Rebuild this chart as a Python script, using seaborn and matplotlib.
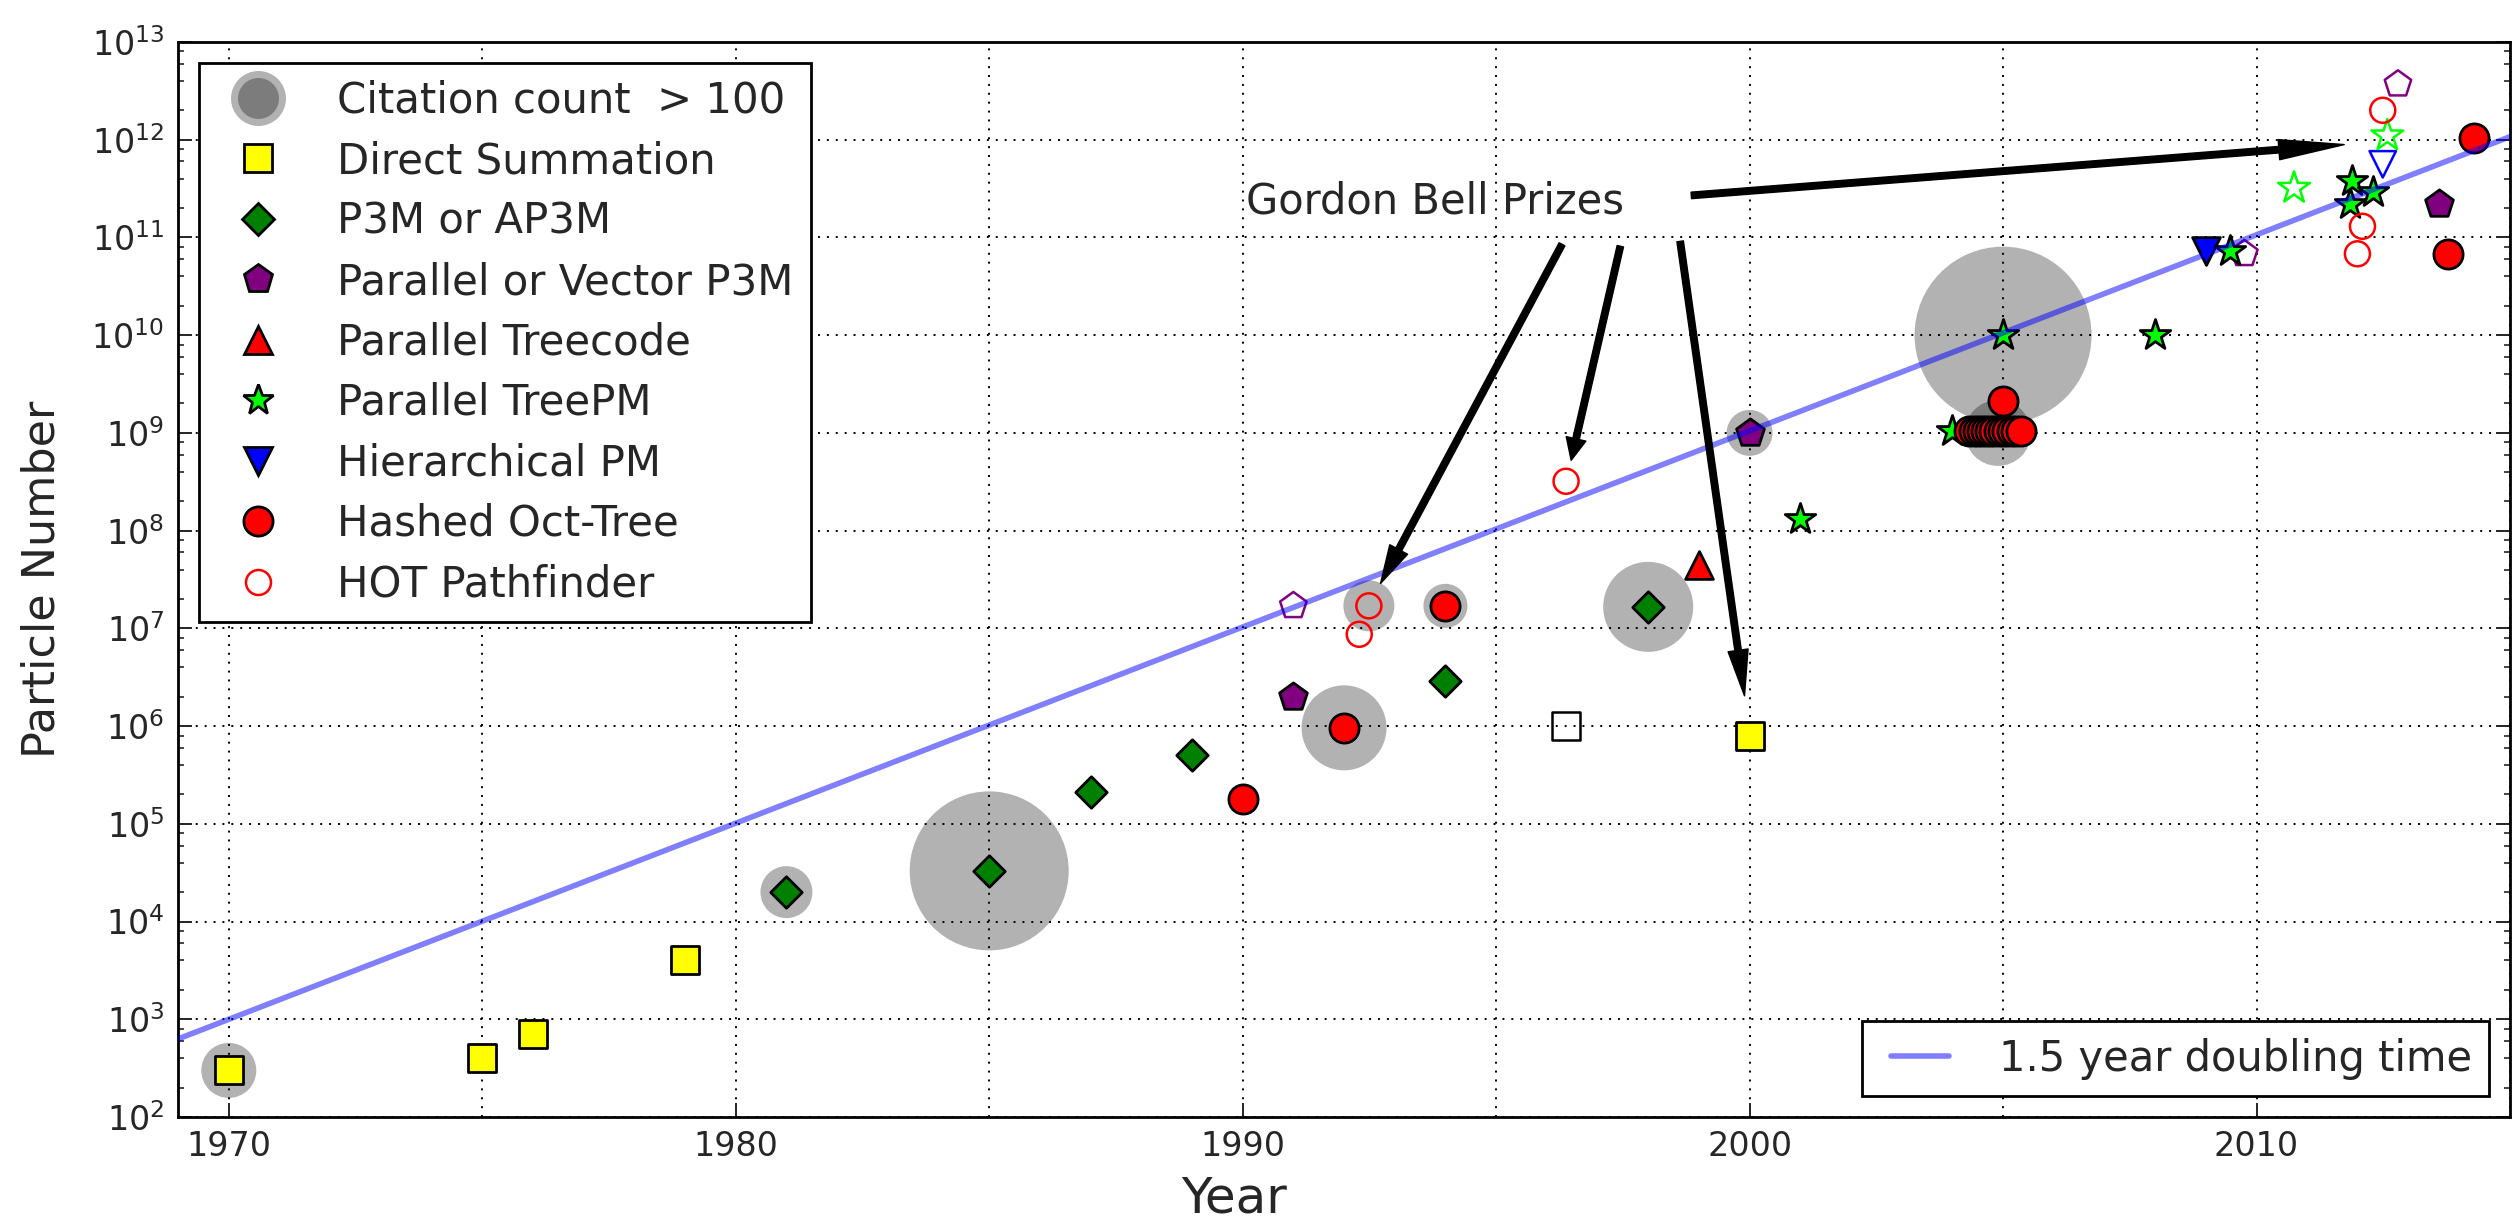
import matplotlib
matplotlib.use("Agg")
import matplotlib.pyplot as plt
from matplotlib.lines import Line2D
from matplotlib.legend_handler import HandlerTuple
from matplotlib.ticker import MultipleLocator, LogLocator, NullFormatter
import numpy as np
import seaborn as sns

# ---------------- data ----------------
direct_year = [1970, 1975, 1976, 1979, 2000]
direct_n = [3e2, 4e2, 7e2, 4e3, 8e5]

p3m_year = [1981, 1985, 1987, 1989, 1994, 1998]
p3m_n = [2e4, 3.3e4, 2.1e5, 5.1e5, 2.9e6, 1.66e7]

pp3m_year = [1991, 2000, 2013.6]
pp3m_n = [2.0e6, 1.0e9, 2.2e11]

treecode_year = [1999]
treecode_n = [4.5e7]

treepm_year = [2001, 2004.0, 2005, 2008, 2009.47, 2011.85, 2011.89, 2012.29]
treepm_n = [1.32e8, 1.05e9, 1.0e10, 1.0e10, 7.2e10, 2.2e11, 3.8e11, 2.9e11]

hpm_year = [2009.0]
hpm_n = [7.2e10]

hot_year = [1990, 1992, 1994,
            2004.33, 2004.42, 2004.5, 2004.58, 2004.67, 2004.75, 2004.83,
            2004.92, 2005.0, 2005.08, 2005.17, 2005.25, 2005.36,
            2005.0, 2013.78, 2014.29]
hot_n = [1.8e5, 9.6e5, 1.7e7,
         1.05e9, 1.05e9, 1.05e9, 1.05e9, 1.05e9, 1.05e9, 1.05e9,
         1.05e9, 1.05e9, 1.05e9, 1.05e9, 1.05e9, 1.05e9,
         2.1e9, 6.8e10, 1.05e12]

pathfinder_year = [1992.3, 1992.49, 1996.38, 2011.99, 2012.09, 2012.49]
pathfinder_n = [8.7e6, 1.7e7, 3.2e8, 6.8e10, 1.3e11, 2.0e12]

# unfilled entries of the other methods
open_direct_year = [1996.38]
open_direct_n = [1.0e6]
open_pp3m_year = [1991, 2009.76, 2012.79]
open_pp3m_n = [1.7e7, 6.8e10, 3.7e12]
open_treepm_year = [2010.74, 2012.58]
open_treepm_n = [3.2e11, 1.1e12]
open_hpm_year = [2012.49]
open_hpm_n = [5.6e11]

# highly cited runs (bubble area follows the citation count)
cited_year = [1970, 1981, 1985, 1992, 1992.49, 1994, 1998, 2000, 2005, 2004.9]
cited_n = [3e2, 2e4, 3.3e4, 9.6e5, 1.7e7, 1.7e7, 1.66e7, 1.0e9, 1.0e10, 1.0e9]
citations = [314, 280, 2622, 749, 270, 201, 840, 219, 3248, 452]

# Moore's-law style reference line
trend_years = [1969, 2015]
doubling_time = 1.5
trend_n = [1e3 * 2 ** ((y - 1970) / doubling_time) for y in trend_years]

# Gordon Bell prize annotations
gb_label = "Gordon Bell Prizes"
gb_label_pos = (1993.8, 10 ** 11.37)
gb_arrow_start = [(1996.3, 10 ** 10.93), (1997.45, 10 ** 10.91),
                  (1998.63, 10 ** 10.96), (1998.85, 10 ** 11.43)]
gb_arrow_tip = [(1992.72, 10 ** 7.46), (1996.48, 10 ** 8.72),
                (1999.9, 10 ** 6.31), (2011.73, 10 ** 11.95)]

legend_labels = ["Citation count  > 100", "Direct Summation", "P3M or AP3M",
                 "Parallel or Vector P3M", "Parallel Treecode", "Parallel TreePM",
                 "Hierarchical PM", "Hashed Oct-Tree", "HOT Pathfinder"]

# ---------------- style ----------------
sns.set_style("ticks")
plt.rcParams["font.family"] = ["DejaVu Sans"]
plt.rcParams["mathtext.fontset"] = "dejavusans"
plt.rcParams["lines.scale_dashes"] = False

DPI = 100
fig = plt.figure(figsize=(25.12, 12.2), dpi=DPI)
ax = fig.add_axes([0.0709, 0.0844, 0.9283, 0.8812])
ax.set_yscale("log")
ax.set_xlim(1969, 2015)
ax.set_ylim(1e2, 1e13)

EDGE = 2.0
OPEN_LW = 1.8
GRAY = (0, 0, 0, 0.3)
TREND_COLOR = (0, 0, 1, 0.5)
TREND_LW = 4.0

# citation bubbles
cmin, cmax = min(citations), max(citations)
sns.scatterplot(x=cited_year, y=cited_n, size=citations, sizes=(5 * cmin, 5 * cmax),
                size_norm=(cmin, cmax), color="k", alpha=0.3, linewidth=0,
                edgecolor="none", legend=False, zorder=1, ax=ax)


def points(x, y, marker, ms, face, edge, lw):
    sns.scatterplot(x=x, y=y, marker=marker, s=ms ** 2, color=face, edgecolor=edge,
                    linewidth=lw, legend=False, zorder=2, ax=ax)


styles = {
    "direct": ("s", 20, "yellow"),
    "p3m": ("D", 16, "green"),
    "pp3m": ("p", 21, "purple"),
    "treecode": ("^", 20, "red"),
    "treepm": ("*", 23, "lime"),
    "hpm": ("v", 20, "blue"),
    "hot": ("o", 21, "red"),
}

points(direct_year, direct_n, "s", 20, "yellow", "k", EDGE)
points(open_direct_year, open_direct_n, "s", 20, "none", "k", OPEN_LW)
points(p3m_year, p3m_n, "D", 16, "green", "k", EDGE)
points(pp3m_year, pp3m_n, "p", 21, "purple", "k", EDGE)
points(open_pp3m_year, open_pp3m_n, "p", 20, "none", "purple", OPEN_LW)
points(treecode_year, treecode_n, "^", 20, "red", "k", EDGE)
points(hpm_year, hpm_n, "v", 20, "blue", "k", EDGE)
points(open_hpm_year, open_hpm_n, "v", 19, "none", "blue", OPEN_LW)
points(treepm_year, treepm_n, "*", 23, "lime", "k", EDGE)
points(open_treepm_year, open_treepm_n, "*", 24, "none", "lime", OPEN_LW)
points(pathfinder_year, pathfinder_n, "o", 18, "none", "red", OPEN_LW)
for x, y in zip(hot_year, hot_n):
    points([x], [y], "o", 21, "red", "k", EDGE)

# doubling-time trend
sns.lineplot(x=trend_years, y=trend_n, color=TREND_COLOR, linewidth=TREND_LW,
             zorder=3, ax=ax, legend=False)

# grid, ticks, spines
ax.xaxis.set_major_locator(MultipleLocator(10))
ax.xaxis.set_minor_locator(MultipleLocator(5))
ax.xaxis.set_minor_formatter(NullFormatter())
ax.yaxis.set_major_locator(LogLocator(base=10, numticks=20))
ax.yaxis.set_minor_locator(LogLocator(base=10, subs=(2, 4, 6, 8), numticks=100))
ax.yaxis.set_minor_formatter(NullFormatter())
dots = (0, (1.4, 5.0))
ax.grid(True, axis="x", which="both", color="k", linestyle=dots, linewidth=1.4)
ax.grid(True, axis="y", which="major", color="k", linestyle=dots, linewidth=1.4)
ax.set_axisbelow(True)
ax.tick_params(axis="x", which="major", direction="in", length=10, width=1.4,
               bottom=True, top=False, labelsize=24, pad=9)
ax.tick_params(axis="x", which="minor", length=0)
ax.tick_params(axis="y", which="major", direction="in", length=10, width=1.4,
               left=True, right=True, labelsize=24, pad=10)
ax.tick_params(axis="y", which="minor", direction="in", length=4.5, width=1.2,
               left=True, right=True)
for sp in ax.spines.values():
    sp.set_color("k")
    sp.set_linewidth(2.0)

ax.set_xlabel("Year", fontsize=36)
ax.set_ylabel("Particle Number", fontsize=32)
ax.xaxis.set_label_coords(0.453, -0.053)
ax.yaxis.set_label_coords(-0.049, 0.5)

# Gordon Bell annotations
ax.text(*gb_label_pos, gb_label, fontsize=30, ha="center", va="center", zorder=5)
fig.canvas.draw()
for start, tip in zip(gb_arrow_start, gb_arrow_tip):
    p0 = ax.transData.transform(start)
    p1 = ax.transData.transform(tip)
    head = 0.1 * np.hypot(*(p1 - p0)) * 72 / DPI
    ax.annotate("", xy=tip, xytext=start, zorder=5,
                arrowprops=dict(facecolor="k", edgecolor="k", width=4.7,
                                headwidth=14.5, headlength=head, shrink=0.0))

# legends
cite_handle = (Line2D([], [], ls="none", marker="o", ms=39.6, mfc=GRAY, mec="none"),
               Line2D([], [], ls="none", marker="o", ms=29.5, mfc=GRAY, mec="none"))
handles = [cite_handle]
for key in ["direct", "p3m", "pp3m", "treecode", "treepm", "hpm", "hot"]:
    m, ms, c = styles[key]
    handles.append(Line2D([], [], ls="none", marker=m, ms=ms, mfc=c, mec="k", mew=EDGE))
handles.append(Line2D([], [], ls="none", marker="o", ms=18, mfc="none", mec="red",
                      mew=OPEN_LW))

leg1 = ax.legend(handles, legend_labels, loc="upper left", fontsize=30.2,
                 handler_map={tuple: HandlerTuple(ndivide=1)},
                 labelspacing=0.44, handletextpad=0.9, borderpad=0.4,
                 borderaxespad=0.5, fancybox=False, framealpha=1, numpoints=1)
leg1.get_frame().set_edgecolor("k")
leg1.get_frame().set_linewidth(2.0)
leg1.set_zorder(10)
ax.add_artist(leg1)

trend_handle = Line2D([], [], color=TREND_COLOR, linewidth=TREND_LW)
leg2 = ax.legend([trend_handle], ["1.5 year doubling time"], loc="lower right",
                 fontsize=30, numpoints=2, handletextpad=0.9, borderpad=0.4,
                 borderaxespad=0.5, fancybox=False, framealpha=1)
leg2.get_frame().set_edgecolor("k")
leg2.get_frame().set_linewidth(2.0)
leg2.set_zorder(10)

fig.savefig("out.png", dpi=DPI)
